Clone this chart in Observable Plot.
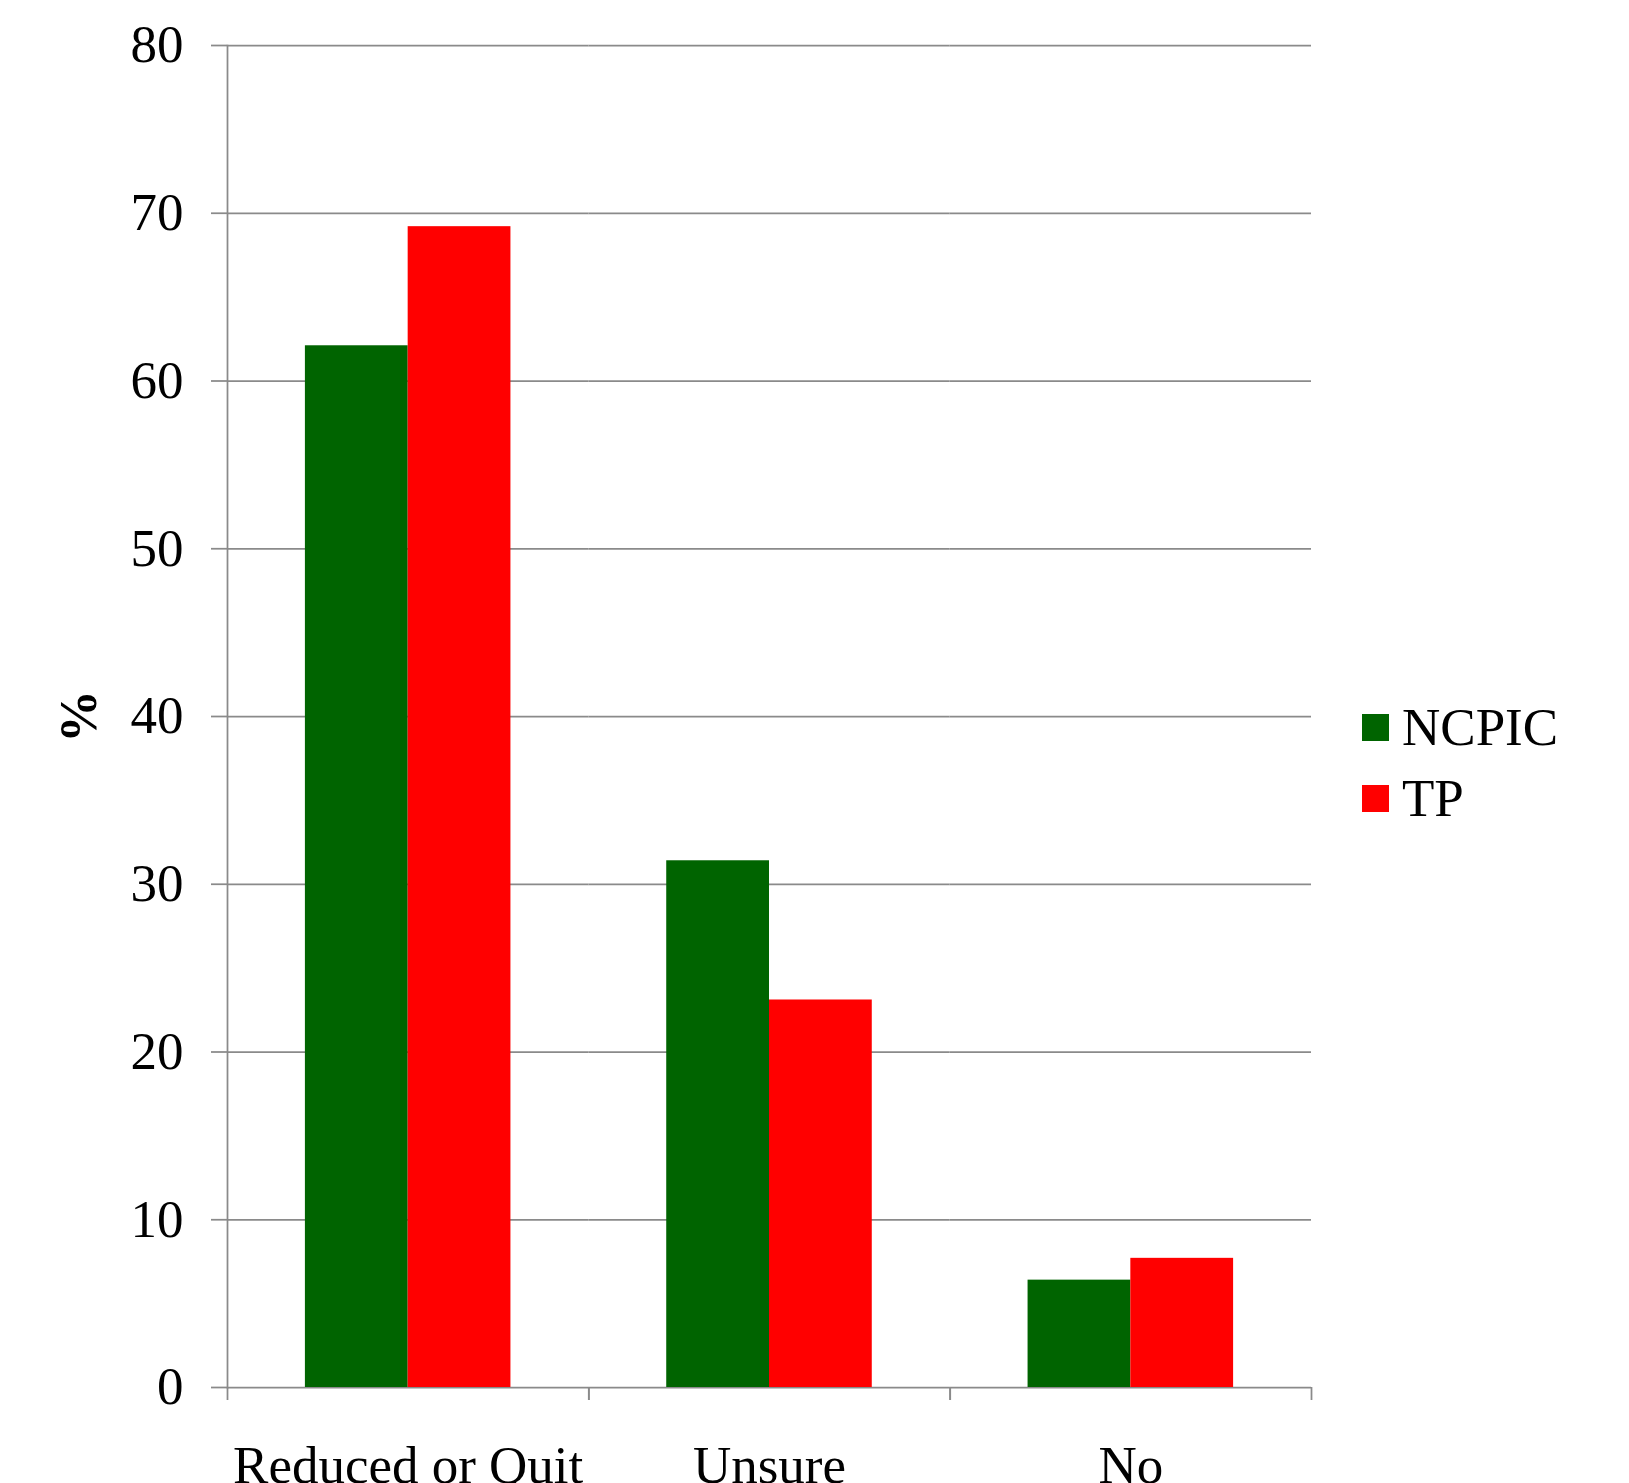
<!DOCTYPE html>
<html>
<head>
<meta charset="utf-8">
<script src="https://cdn.jsdelivr.net/npm/d3@7"></script>
<script src="https://cdn.jsdelivr.net/npm/@observablehq/plot@0.6"></script>
<style>
  html, body { margin: 0; padding: 0; background: #fff; }
  #chart { position: relative; width: 1629px; height: 1483px; overflow: hidden; }
  #chart svg { display: block; }
  .legend { position: absolute; left: 1362px; top: 692px; font-family: "Liberation Serif", "Times New Roman", serif; font-size: 53px; color: #000; }
  .legend-row { display: flex; align-items: center; height: 71px; }
  .legend-swatch { width: 27px; height: 27px; margin-right: 13px; }
  .legend-label { line-height: 71px; white-space: nowrap; }
</style>
</head>
<body>
<div id="chart"></div>
<script>
// Response categories (x) and the two survey groups
const categories = ["Reduced or Quit", "Unsure", "No"];
const seriesNames = ["NCPIC", "TP"];
const seriesColors = ["#006400", "#ff0000"];

// Percentages per category
const ncpicValues = [62.1, 31.4, 6.4];
const tpValues = [69.2, 23.1, 7.7];

// Y axis ticks (percent)
const yTicks = [0, 10, 20, 30, 40, 50, 60, 70, 80];

const rows = categories.flatMap((category, i) => [
  {category, series: seriesNames[0], value: ncpicValues[i]},
  {category, series: seriesNames[1], value: tpValues[i]}
]);

const W = 1629, H = 1483;
const margin = {top: 45, right: 318, bottom: 96, left: 227};
const bandWidth = (W - margin.left - margin.right) / categories.length;
const axisGray = "#8a8a8a";

const plot = Plot.plot({
  width: W,
  height: H,
  marginTop: margin.top,
  marginRight: margin.right,
  marginBottom: margin.bottom,
  marginLeft: margin.left,
  facet: {marginTop: 0, marginRight: 0, marginBottom: 0, marginLeft: 0},
  style: {fontFamily: "'Liberation Serif', 'Times New Roman', serif", fontSize: "53px", color: "#000", background: "#fff", overflow: "visible"},
  fx: {domain: categories, padding: 0, round: false, axis: null, label: null},
  x: {domain: seriesNames, paddingInner: 0, paddingOuter: 0.758, round: false, axis: null},
  y: {domain: [0, 80], axis: null},
  color: {domain: seriesNames, range: seriesColors},
  marks: [
    Plot.gridY(yTicks, {stroke: axisGray, strokeOpacity: 1, strokeWidth: 1.75}),
    Plot.barY(rows, {fx: "category", x: "series", y: "value", fill: "series"}),
    // vertical value axis line, drawn once on the leftmost facet
    Plot.frame({anchor: "left", facetAnchor: "left", stroke: axisGray, strokeWidth: 1.75}),
    Plot.axisY(yTicks, {
      tickSize: 16, tickPadding: 28, stroke: axisGray, strokeWidth: 1.75,
      fill: "#000", label: null
    }),
    // category labels
    Plot.axisFx({anchor: "bottom", tickSize: 0, tickPadding: 58, fill: "#000", label: null}),
    // tick marks between categories
    Plot.axisFx({anchor: "bottom", tickSize: 13, dx: -bandWidth / 2, stroke: axisGray, strokeWidth: 1.75, fill: "none", label: null}),
    Plot.axisFx([categories[categories.length - 1]], {anchor: "bottom", tickSize: 13, dx: bandWidth / 2, stroke: axisGray, strokeWidth: 1.75, fill: "none", label: null}),
    // y axis title
    Plot.text([categories[0]], {
      fx: (d) => d, text: () => "%", frameAnchor: "left", dx: -148,
      rotate: -90, textAnchor: "middle", lineAnchor: "middle",
      fontWeight: "bold", fontSize: 53, fill: "#000"
    })
  ]
});

const chart = document.getElementById("chart");
chart.appendChild(plot);

// Legend to the right of the plot
const legend = document.createElement("div");
legend.className = "legend";
seriesNames.forEach((name, i) => {
  const row = document.createElement("div");
  row.className = "legend-row";
  const sw = document.createElement("div");
  sw.className = "legend-swatch";
  sw.style.background = seriesColors[i];
  const lab = document.createElement("span");
  lab.className = "legend-label";
  lab.textContent = name;
  row.appendChild(sw);
  row.appendChild(lab);
  legend.appendChild(row);
});
chart.appendChild(legend);
</script>
</body>
</html>
